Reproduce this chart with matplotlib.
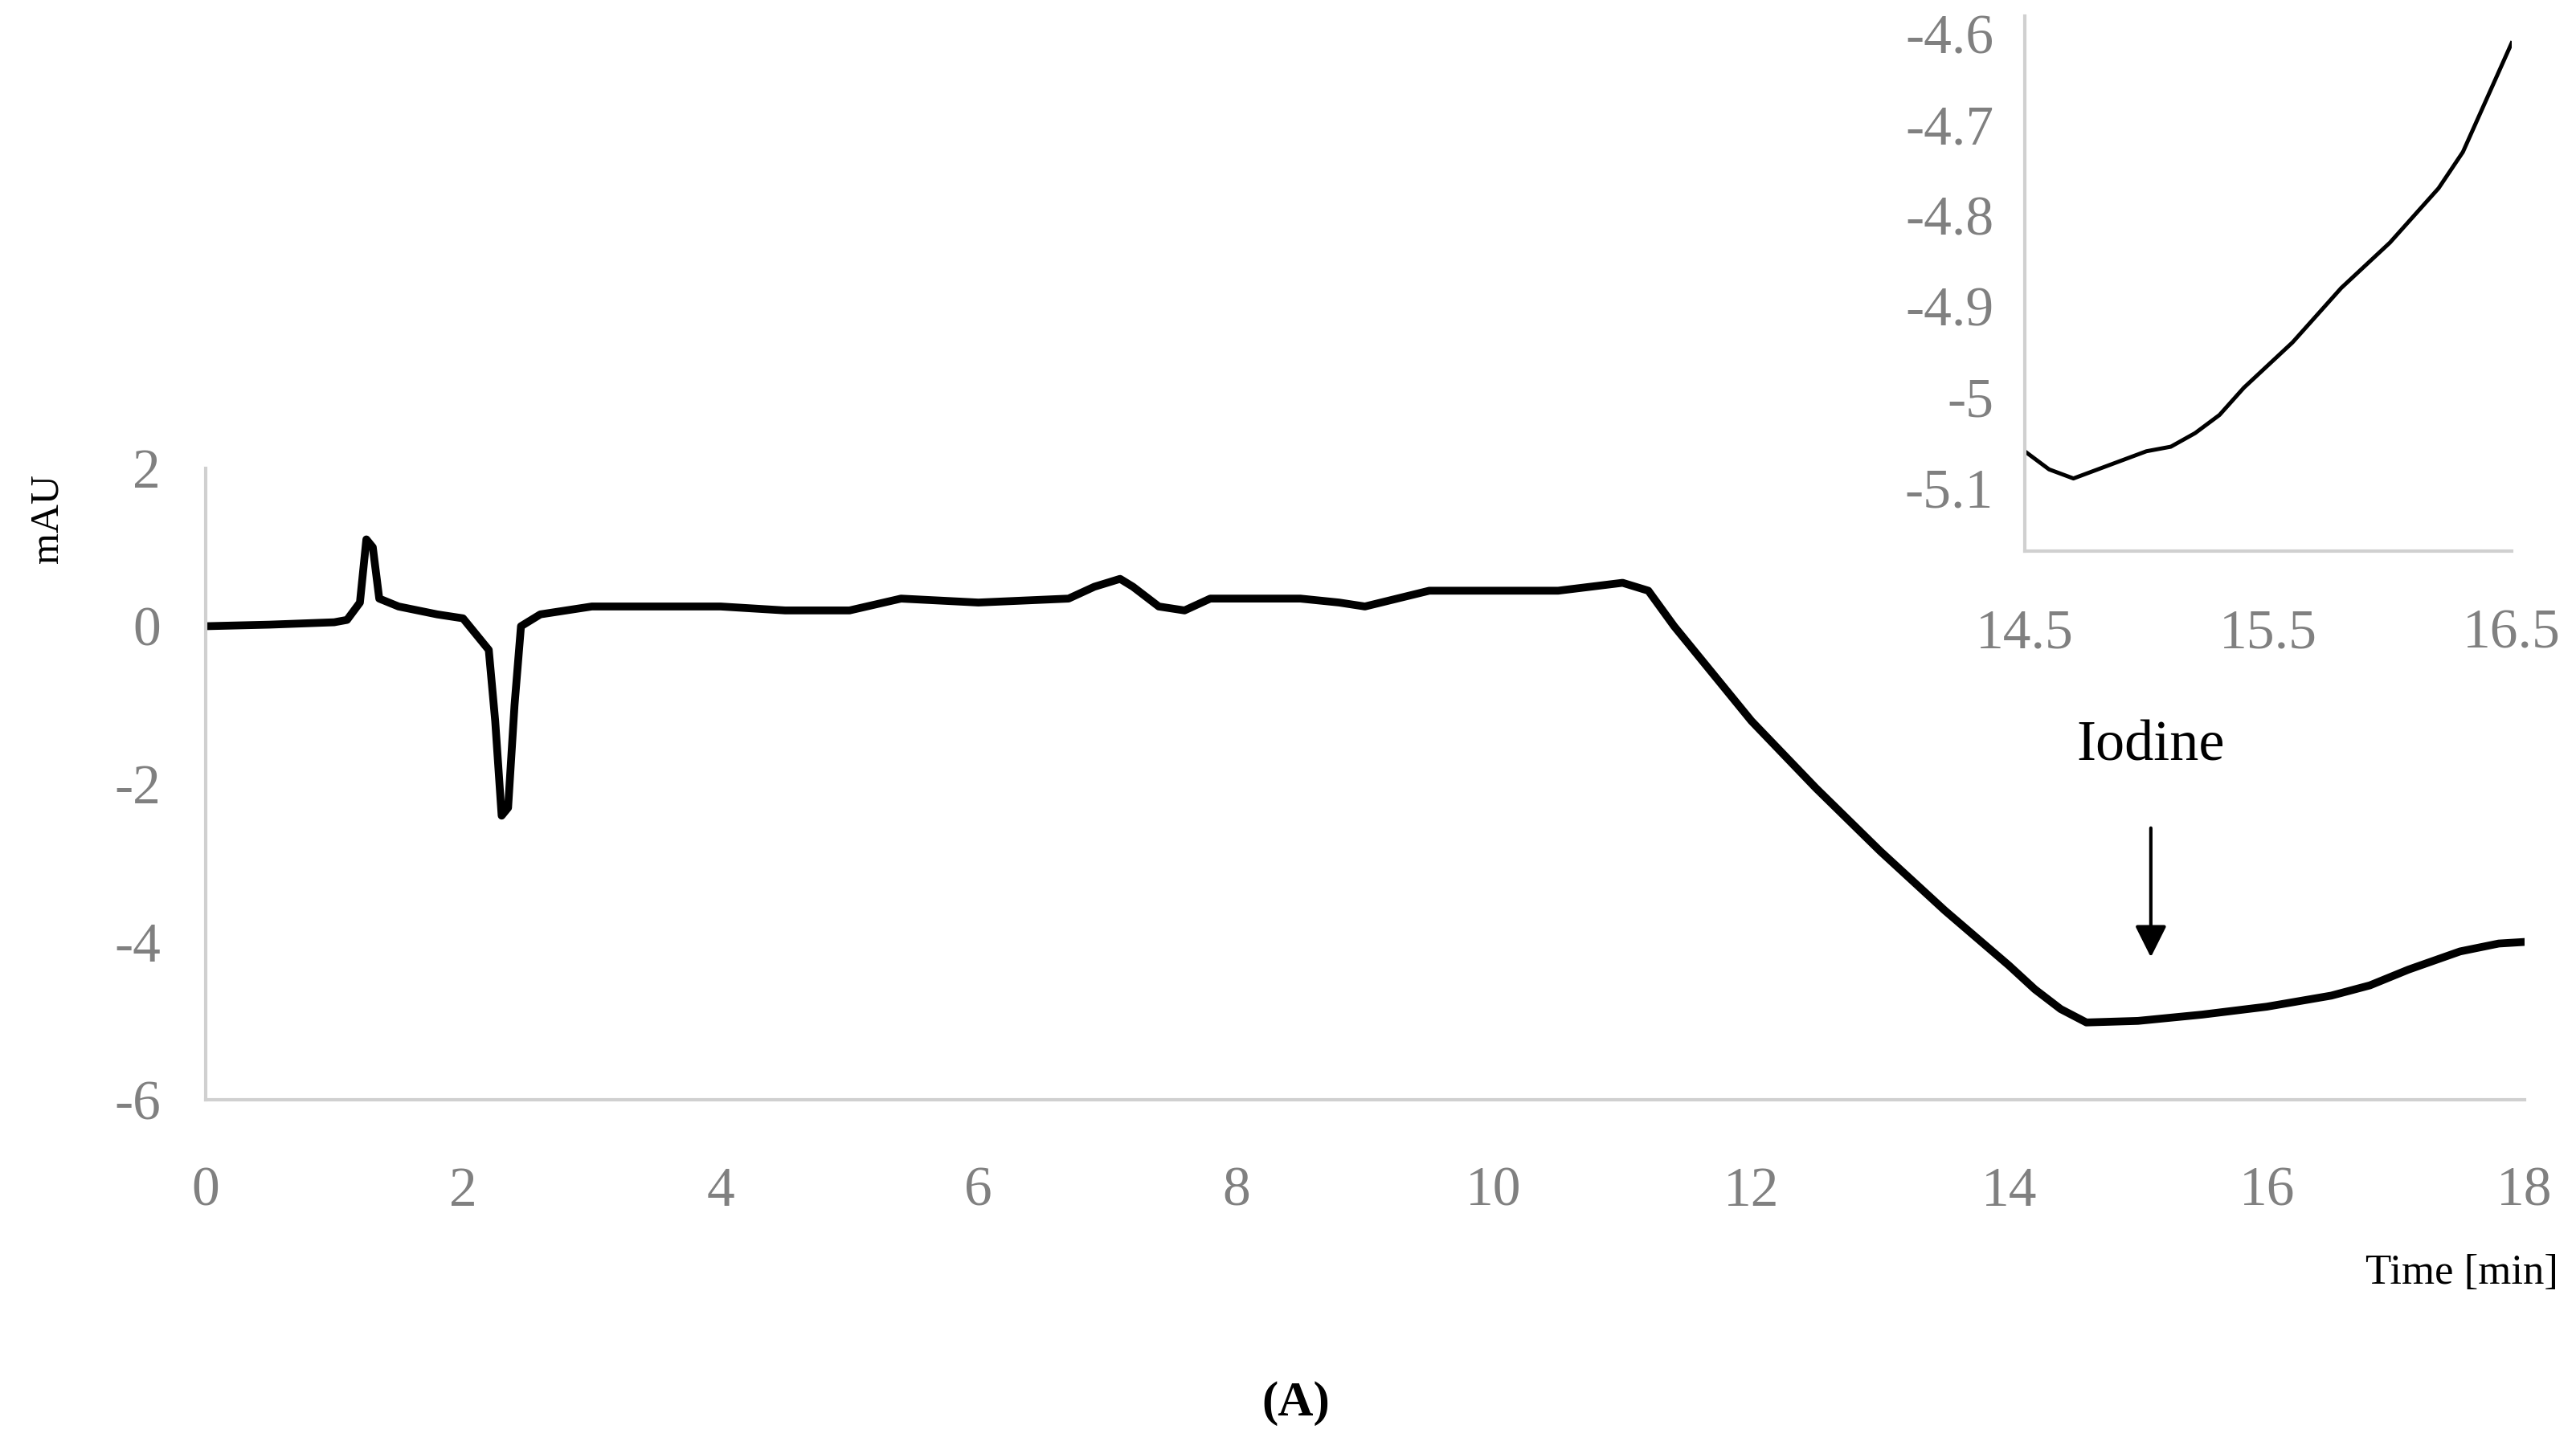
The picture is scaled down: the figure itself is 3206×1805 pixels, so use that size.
import matplotlib
matplotlib.use("Agg")
import matplotlib.pyplot as plt

t_main = [0, 0.5, 1.0, 1.1, 1.2, 1.25, 1.3, 1.35, 1.5, 1.8, 2.0, 2.1, 2.2, 2.25, 2.3, 2.35, 2.4, 2.45, 2.6, 2.8, 3.0, 3.5, 4.0, 4.5, 5.0, 5.4, 6.0, 6.7, 6.9, 7.1, 7.2, 7.4, 7.6, 7.8, 8.5, 8.8, 9.0, 9.5, 10.0, 10.5, 11.0, 11.2, 11.4, 11.7, 12.0, 12.5, 13.0, 13.5, 14.0, 14.2, 14.4, 14.6, 15.0, 15.5, 16.0, 16.5, 16.8, 17.1, 17.5, 17.8, 18.0]
y_main = [0.0, 0.02, 0.05, 0.08, 0.3, 1.1, 1.0, 0.35, 0.25, 0.15, 0.1, -0.1, -0.3, -1.2, -2.4, -2.3, -1.0, 0.0, 0.15, 0.2, 0.25, 0.25, 0.25, 0.2, 0.2, 0.35, 0.3, 0.35, 0.5, 0.6, 0.5, 0.25, 0.2, 0.35, 0.35, 0.3, 0.25, 0.45, 0.45, 0.45, 0.55, 0.45, 0.0, -0.6, -1.2, -2.05, -2.85, -3.6, -4.3, -4.6, -4.85, -5.02, -5.0, -4.92, -4.82, -4.68, -4.55, -4.35, -4.12, -4.02, -4.0]

t_ins = [14.5, 14.6, 14.7, 14.8, 14.9, 15.0, 15.1, 15.2, 15.3, 15.4, 15.5, 15.6, 15.7, 15.8, 15.9, 16.0, 16.1, 16.2, 16.3, 16.4, 16.5]
y_ins = [-5.06, -5.08, -5.09, -5.08, -5.07, -5.06, -5.055, -5.04, -5.02, -4.99, -4.965, -4.94, -4.91, -4.88, -4.855, -4.83, -4.8, -4.77, -4.73, -4.67, -4.61]

xticks = [0, 2, 4, 6, 8, 10, 12, 14, 16, 18]
yticks = [-6, -4, -2, 0, 2]
ins_xticks = [14.5, 15.5, 16.5]
ins_yticks = [-5.1, -5.0, -4.9, -4.8, -4.7, -4.6]

plt.rcParams['font.family'] = ['Liberation Serif', 'DejaVu Serif']
gray = '#808080'
axc = '#d0d0d0'

fig = plt.figure(figsize=(16.03, 9.025), dpi=200)
ax = fig.add_axes([0.0797, 0.2415, 0.9003, 0.4355])
ax.plot(t_main, y_main, color='black', lw=3.5, solid_joinstyle='round')
ax.set_xlim(0, 18)
ax.set_ylim(-6, 2)
ax.set_xticks(xticks)
ax.set_yticks(yticks)
ax.set_yticklabels([str(v) for v in yticks])
for s in ['top', 'right']:
    ax.spines[s].set_visible(False)
for s in ['left', 'bottom']:
    ax.spines[s].set_color(axc)
    ax.spines[s].set_linewidth(1.5)
ax.tick_params(axis='x', length=0, labelsize=25, labelcolor=gray, pad=30)
ax.tick_params(axis='y', length=0, labelsize=25, labelcolor=gray, pad=20)
ax.set_ylabel('mAU', fontsize=18, labelpad=2)
ax.yaxis.set_label_coords(-0.06, 0.92)
fig.text(0.993, 0.122, 'Time [min]', ha='right', va='center', fontsize=19)
fig.text(0.503, 0.032, '(A)', ha='center', va='center', fontsize=22, fontweight='bold')
ax.annotate('', xy=(15.1, -4.25), xytext=(15.1, -2.5),
            arrowprops=dict(arrowstyle='-|>', color='black', lw=1.5, mutation_scale=30))
ax.text(15.1, -1.85, 'Iodine', ha='center', va='bottom', fontsize=26)

ins = fig.add_axes([0.786, 0.62, 0.189, 0.369])
ins.plot(t_ins, y_ins, color='black', lw=1.8)
ins.set_xlim(14.5, 16.5)
ins.set_ylim(-5.17, -4.58)
ins.set_xticks(ins_xticks)
ins.set_xticklabels(['14.5', '15.5', '16.5'])
ins.set_yticks(ins_yticks)
ins.set_yticklabels(['-5.1', '-5', '-4.9', '-4.8', '-4.7', '-4.6'])
for s in ['top', 'right']:
    ins.spines[s].set_visible(False)
for s in ['left', 'bottom']:
    ins.spines[s].set_color(axc)
    ins.spines[s].set_linewidth(1.5)
ins.tick_params(axis='x', length=0, labelsize=25, labelcolor=gray, pad=26)
ins.tick_params(axis='y', length=0, labelsize=25, labelcolor=gray, pad=14)

fig.savefig('out.png', dpi=200)
